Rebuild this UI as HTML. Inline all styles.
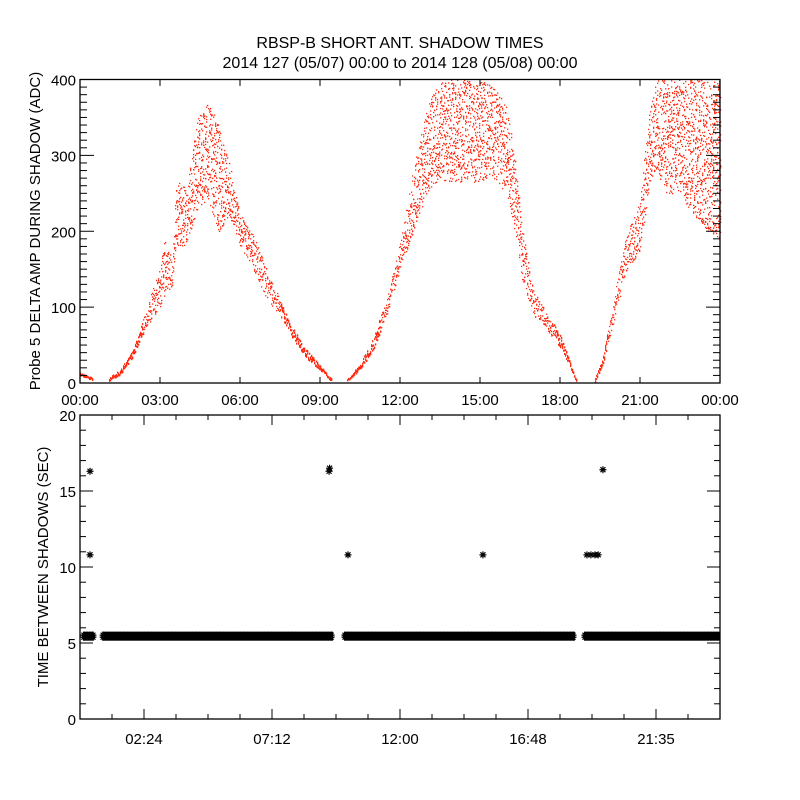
<!DOCTYPE html>
<html><head><meta charset="utf-8"><style>
html,body{margin:0;padding:0;background:#fff;}
svg{display:block;font-family:"Liberation Sans",sans-serif;}
</style></head><body>
<svg id="chart" width="800" height="800" viewBox="0 0 800 800" xmlns="http://www.w3.org/2000/svg">
<rect width="800" height="800" fill="#fff"/>
<text x="400" y="48" font-size="16" text-anchor="middle">RBSP-B SHORT ANT. SHADOW TIMES</text>
<text x="400" y="68" font-size="16" text-anchor="middle">2014 127 (05/07) 00:00 to 2014 128 (05/08) 00:00</text>
<g id="topPanel"></g>
<g id="botPanel"></g>
</svg>
<script>
// ---- top panel data (hours, low ADC, high ADC), one array set per shadow segment ----
const ampTimes = [
 [0.0,0.2,0.45],
 [1.1,1.5,2.0,2.5,3.0,3.2,3.45,3.6,4.0,4.4,4.8,5.2,5.6,6.0,6.5,7.0,7.5,8.0,8.5,9.0,9.4],
 [10.0,10.5,11.0,11.5,12.0,12.5,13.0,13.5,14.0,14.5,15.0,15.5,16.0,16.3,16.6,17.0,17.5,18.0,18.3,18.6],
 [19.3,19.6,20.0,20.5,21.0,21.3,21.6,22.0,22.5,23.0,23.5,24.0]
];
const ampLow = [
 [10,8,5],
 [4,12,35,75,100,120,125,180,180,230,240,200,220,180,150,110,90,58,33,18,4],
 [2,18,45,90,150,200,250,270,260,270,260,270,250,200,130,90,70,48,28,2],
 [2,25,80,150,175,250,280,250,250,220,200,190]
];
const ampHigh = [
 [14,11,8],
 [8,18,45,100,155,195,160,270,255,350,370,345,290,225,195,150,110,72,45,24,8],
 [5,26,62,112,185,285,365,400,400,400,400,390,365,300,200,122,92,66,35,6],
 [6,35,110,200,240,350,400,400,400,400,400,400]
];
// ---- bottom panel data ----
const bandStart = [0.11, 0.83, 9.9, 18.9];
const bandEnd   = [0.52, 9.49, 18.56, 24.0];
const bandValue = [5.45, 5.45, 5.45, 5.45];
const outTimes  = [0.375, 0.375, 9.34, 9.36, 10.05, 15.11, 19.01, 19.16, 19.31, 19.43, 19.61];
const outValues = [16.3, 10.8, 16.3, 16.5, 10.8, 10.8, 10.8, 10.8, 10.8, 10.8, 16.4];
const topXLabels = ["00:00","03:00","06:00","09:00","12:00","15:00","18:00","21:00","00:00"];
const topYLabels = [0,100,200,300,400];
const botXLabels = ["02:24","07:12","12:00","16:48","21:35"];
const botYLabels = [0,5,10,15,20];

const NS="http://www.w3.org/2000/svg";
function el(tag,attrs,parent){const e=document.createElementNS(NS,tag);for(const k in attrs)e.setAttribute(k,attrs[k]);parent.appendChild(e);return e;}
const L=80,R=720;
const xT=h=>L+h*(R-L)/24;
const yTop=v=>383-v*(383-79.5)/400;
const yBot=v=>719-v*(719-415)/20;

// ---- top panel ----
const topG=document.getElementById('topPanel');
const pts=el('g',{},topG);


function hash(a,b){const s=Math.sin(a*12.9898+b*78.233)*43758.5453;return s-Math.floor(s);}
for(let s=0;s<ampTimes.length;s++){
 const T=ampTimes[s],lo=ampLow[s],hi=ampHigh[s];
 const x0=Math.round(xT(T[0])),x1=Math.round(xT(T[T.length-1]));
 for(let px=x0;px<=x1;px++){
  const h=(px-L)*24/(R-L);
  let i=0;while(i<T.length-2&&h>T[i+1])i++;
  const f=Math.max(0,Math.min(1,(h-T[i])/(T[i+1]-T[i])));
  const a=lo[i]+(lo[i+1]-lo[i])*f,b=hi[i]+(hi[i+1]-hi[i])*f;
  const ya=yTop(a),yb=yTop(b);
  const span=ya-yb;
  const n=Math.max(2,Math.round(2+span/9));
  for(let k=0;k<n;k++){
   const yy=yb+hash(px,k)*span;
   const r=el('rect',{x:px,y:Math.min(yy,382),width:1.3,height:span<15?2:1.3,fill:'#ff2a10'},pts);
   
   
  }
 }
}
const tf=el('rect',{x:L,y:79.5,width:R-L,height:383-79.5,fill:'none',stroke:'#000','stroke-width':1.3},topG);


for(let v=0;v<=400;v+=10){
 const y=yTop(v),len=(v%100===0)?14:7;
 el('line',{x1:L,y1:y,x2:L+len,y2:y,stroke:'#000'},topG);
 el('line',{x1:R,y1:y,x2:R-len,y2:y,stroke:'#000'},topG);
}
topYLabels.forEach(v=>{const t=el('text',{x:L-4,y:yTop(v)+6,'font-size':15,'text-anchor':'end'},topG);t.textContent=v;
 });
topXLabels.forEach((s,i)=>{const x=xT(i*3);
 el('line',{x1:x,y1:383,x2:x,y2:377,stroke:'#000'},topG);el('line',{x1:x,y1:79.5,x2:x,y2:86,stroke:'#000'},topG);
 const t=el('text',{x:x,y:405,'font-size':15,'text-anchor':'middle'},topG);t.textContent=s;
 });
const tyl=el('text',{x:0,y:0,'font-size':15,'text-anchor':'middle',transform:'translate(40,231) rotate(-90)'},topG);
tyl.textContent='Probe 5 DELTA AMP DURING SHADOW (ADC)';


// ---- bottom panel ----
const botG=document.getElementById('botPanel');
const bf=el('rect',{x:L,y:415,width:R-L,height:304,fill:'none',stroke:'#000','stroke-width':1.3},botG);


function star(x,y,g){
 el('path',{d:`M${x-3.5} ${y}h7M${x} ${y-3.5}v7M${x-2.5} ${y-2.5}l5 5M${x-2.5} ${y+2.5}l5 -5`,stroke:'#000','stroke-width':1.2,fill:'none'},g);
}
for(let s=0;s<bandStart.length;s++){
 const g=el('g',{},botG);
 
 
 const x0=xT(bandStart[s]),x1=xT(bandEnd[s]),y=yBot(bandValue[s]);
 el('rect',{x:x0,y:y-4.5,width:x1-x0,height:9,fill:'#000'},g);
 for(let x=x0+1;x<x1;x+=3){star(x,y-1,g);star(x,y+1,g);}
}
for(let i=0;i<outTimes.length;i++){
 const g=el('g',{},botG);
 
 
 star(xT(outTimes[i]),yBot(outValues[i]),g);
}
for(let v=0;v<=20;v++){
 const y=yBot(v),len=(v%5===0)?13:6;
 el('line',{x1:L,y1:y,x2:L+len,y2:y,stroke:'#000'},botG);
 el('line',{x1:R,y1:y,x2:R-len,y2:y,stroke:'#000'},botG);
}
botYLabels.forEach(v=>{const t=el('text',{x:L-4,y:yBot(v)+6,'font-size':15,'text-anchor':'end'},botG);t.textContent=v;
 });
for(let k=0;k<=20;k++){const x=xT(k*1.2),len=(k%4===2)?10:5;
 el('line',{x1:x,y1:719,x2:x,y2:719-len,stroke:'#000'},botG);el('line',{x1:x,y1:415,x2:x,y2:415+len,stroke:'#000'},botG);}
botXLabels.forEach((s,i)=>{const x=xT(2.4+i*4.8);
 const t=el('text',{x:x,y:744,'font-size':15,'text-anchor':'middle'},botG);t.textContent=s;
 });
const byl=el('text',{x:0,y:0,'font-size':15,'text-anchor':'middle',transform:'translate(48,567) rotate(-90)'},botG);
byl.textContent='TIME BETWEEN SHADOWS (SEC)';

</script>
</body></html>
